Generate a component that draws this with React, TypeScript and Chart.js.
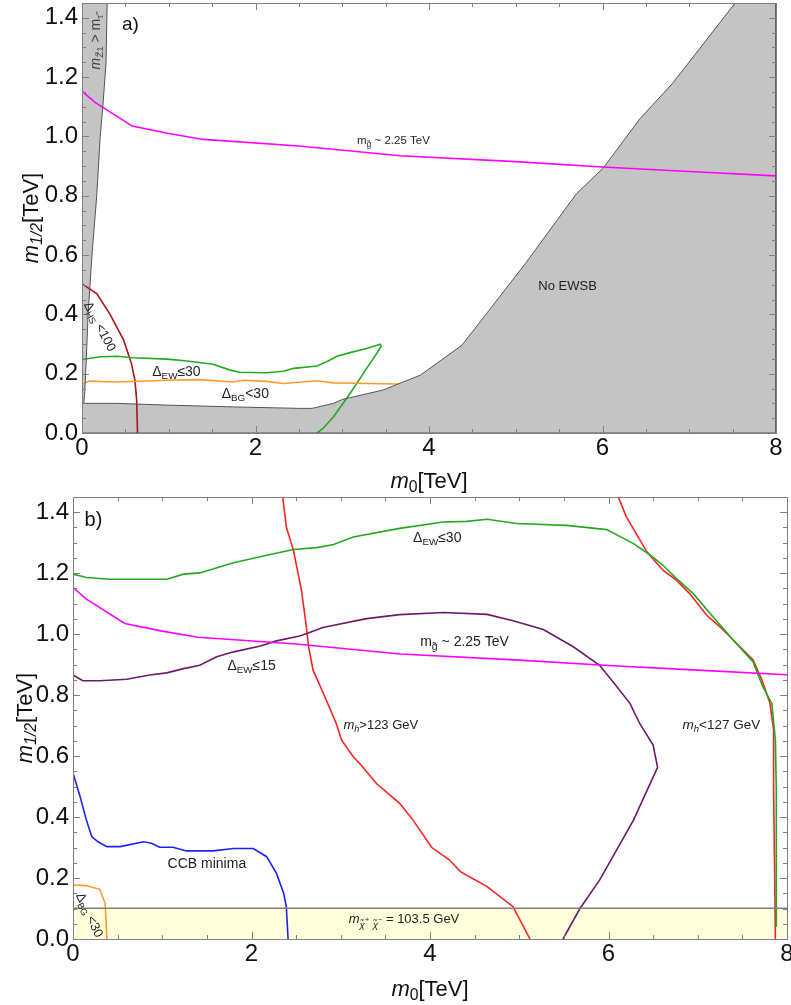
import React, { useEffect, useRef } from 'react';
import { Chart, registerables } from 'chart.js';

Chart.register(...registerables);

const FONT = '"Liberation Sans", Arial, "DejaVu Sans", sans-serif';

// ---------- shared ----------
const xTicksStep = 2;
const yTicksStep = 0.2;
const xMax = 8;
const yMax = 1.45;

// gluino mass contour m_g ~ 2.25 TeV (same in both panels)
const gluinoLine: [number, number][] = [
  [0, 1.153], [0.15, 1.115], [0.58, 1.035], [1.0, 1.01], [1.4, 0.99], [2.5, 0.968],
  [3.67, 0.935], [5.0, 0.915], [6.0, 0.897], [7.0, 0.882], [8.0, 0.867],
];

// ---------- panel a ----------
const noEwsbRegion: [number, number][] = [
  [0, 0.1], [0.4, 0.1], [0.98, 0.094], [1.74, 0.088], [2.51, 0.083], [2.65, 0.083],
  [2.9, 0.1], [3.0, 0.113], [3.47, 0.145], [3.9, 0.195], [4.38, 0.296], [5.11, 0.571],
  [5.7, 0.807], [6.01, 0.894], [6.43, 1.059], [6.81, 1.18], [7.53, 1.45],
  [8, 1.45], [8, 0], [0, 0],
];
const staurLspRegion: [number, number][] = [
  [0, 0.1], [0.02, 0.1], [0.03, 0.13], [0.05, 0.25], [0.07, 0.4], [0.115, 0.6],
  [0.17, 0.8], [0.21, 1.0], [0.24, 1.1], [0.265, 1.2], [0.277, 1.25], [0.29, 1.45], [0, 1.45],
];
const ew30A: [number, number][] = [
  [0, 0.248], [0.21, 0.257], [0.4, 0.259], [0.59, 0.254], [0.98, 0.249], [1.21, 0.243],
  [1.51, 0.232], [1.71, 0.212], [1.82, 0.205], [2.13, 0.203], [2.32, 0.208], [2.44, 0.218],
  [2.71, 0.226], [2.82, 0.24], [2.94, 0.259], [3.09, 0.271], [3.28, 0.285], [3.44, 0.299],
  [3.45, 0.292], [3.28, 0.217], [3.09, 0.133], [2.9, 0.055], [2.78, 0.016], [2.71, 0],
];
const bg30A: [number, number][] = [
  [0, 0.167], [0.09, 0.175], [0.4, 0.172], [0.98, 0.178], [1.36, 0.18], [1.74, 0.172],
  [1.86, 0.178], [2.13, 0.174], [2.32, 0.167], [2.71, 0.176], [2.9, 0.169], [3.28, 0.167], [3.65, 0.165],
];
const hs100A: [number, number][] = [
  [0, 0.503], [0.17, 0.47], [0.32, 0.402], [0.48, 0.313], [0.57, 0.234], [0.61, 0.178],
  [0.63, 0.111], [0.64, 0],
];

// ---------- panel b ----------
const charginoBand: [number, number][] = [[0, 0], [8, 0], [8, 0.101], [0, 0.101]];
const charginoLine: [number, number][] = [[0, 0.101], [8, 0.101]];
const ew30B: [number, number][] = [
  [0, 1.197], [0.15, 1.186], [0.41, 1.18], [1.05, 1.18], [1.24, 1.197], [1.42, 1.201],
  [1.8, 1.234], [2.17, 1.259], [2.47, 1.278], [2.73, 1.284], [2.92, 1.294], [3.14, 1.319],
  [3.66, 1.347], [4.15, 1.368], [4.41, 1.37], [4.64, 1.377], [4.97, 1.363], [5.53, 1.357],
  [5.98, 1.343], [6.28, 1.297], [6.47, 1.259], [6.61, 1.226], [6.76, 1.183], [6.95, 1.133],
  [7.17, 1.057], [7.4, 0.98], [7.62, 0.909], [7.73, 0.827], [7.83, 0.773], [7.87, 0.652],
  [7.88, 0.489], [7.88, 0.04],
];
const mh123: [number, number][] = [
  [2.35, 1.45], [2.39, 1.352], [2.47, 1.275], [2.56, 1.144], [2.61, 1.035], [2.64, 0.958],
  [2.69, 0.882], [2.79, 0.816], [2.95, 0.707], [3.01, 0.652], [3.14, 0.598], [3.23, 0.57],
  [3.4, 0.51], [3.66, 0.445], [3.81, 0.39], [4.02, 0.3], [4.22, 0.259], [4.34, 0.221],
  [4.64, 0.172], [4.93, 0.106], [5.12, 0],
];
const mh127: [number, number][] = [
  [6.11, 1.45], [6.2, 1.385], [6.43, 1.27], [6.61, 1.21], [6.76, 1.177], [6.91, 1.133],
  [7.1, 1.062], [7.25, 1.024], [7.4, 0.98], [7.62, 0.915], [7.72, 0.849], [7.81, 0.773],
  [7.85, 0.685], [7.85, 0.489], [7.87, 0],
];
const ew15B: [number, number][] = [
  [0, 0.866], [0.11, 0.847], [0.3, 0.847], [0.6, 0.852], [0.86, 0.866], [1.05, 0.873],
  [1.24, 0.887], [1.42, 0.898], [1.61, 0.926], [1.8, 0.942], [2.1, 0.961], [2.28, 0.978],
  [2.54, 0.994], [2.62, 1.002], [2.8, 1.022], [3.29, 1.051], [3.66, 1.064], [4.15, 1.071],
  [4.64, 1.065], [4.93, 1.044], [5.27, 1.015], [5.61, 0.958], [5.9, 0.898], [6.05, 0.844],
  [6.24, 0.773], [6.35, 0.707], [6.5, 0.636], [6.55, 0.563], [6.28, 0.39], [5.9, 0.193],
  [5.68, 0.1], [5.49, 0],
];
const ccbMinima: [number, number][] = [
  [0, 0.545], [0.08, 0.467], [0.15, 0.39], [0.21, 0.336], [0.28, 0.319], [0.38, 0.303],
  [0.53, 0.303], [0.79, 0.319], [0.88, 0.314], [0.97, 0.301], [1.12, 0.301], [1.27, 0.289],
  [1.57, 0.289], [1.8, 0.297], [2.02, 0.297], [2.17, 0.27], [2.28, 0.215], [2.36, 0.15],
  [2.39, 0.106], [2.41, 0],
];
const bg30B: [number, number][] = [[0, 0.177], [0.15, 0.175], [0.3, 0.163], [0.36, 0.117], [0.38, 0]];

// ---------- labels ----------
type Seg = { t: string; s?: number; dy?: number; it?: boolean };
type Lbl = { x: number; y: number; size: number; segs: Seg[]; rot?: number; align?: 'left' | 'center'; color?: string };

const dEW = (v: string): Seg[] => [{ t: 'Δ' }, { t: 'EW', s: 0.7, dy: 0.22 }, { t: v }];
const dBG = (v: string): Seg[] => [{ t: 'Δ' }, { t: 'BG', s: 0.7, dy: 0.22 }, { t: v }];
const mGluino: Seg[] = [{ t: 'm' }, { t: 'g\u0303', s: 0.75, dy: 0.3 }, { t: ' ~ 2.25 TeV' }];

const labelsA: Lbl[] = [
  { x: 0.46, y: 1.358, size: 19, segs: [{ t: 'a)' }], color: '#111' },
  { x: 3.17, y: 0.975, size: 11.5, segs: mGluino },
  { x: 5.26, y: 0.481, size: 13, segs: [{ t: 'No EWSB' }] },
  { x: 0.81, y: 0.192, size: 14, segs: dEW('≤30') },
  { x: 1.61, y: 0.118, size: 14, segs: dBG('<30') },
  { x: 0.21, y: 0.36, size: 13, rot: 62, align: 'center', segs: [{ t: 'Δ' }, { t: 'HS', s: 0.7, dy: 0.22 }, { t: ' <100' }] },
  { x: 0.15, y: 1.318, size: 14, rot: -90, align: 'center', color: '#444',
    segs: [{ t: 'm', it: true }, { t: 'Z\u03031', s: 0.7, dy: 0.25 }, { t: ' > m' }, { t: 'τ\u0303', s: 0.7, dy: 0.25 }] },
];
const labelsB: Lbl[] = [
  { x: 0.13, y: 1.354, size: 20, segs: [{ t: 'b)' }], color: '#111' },
  { x: 3.81, y: 1.302, size: 14, segs: dEW('≤30') },
  { x: 3.89, y: 0.961, size: 14, segs: mGluino },
  { x: 1.73, y: 0.882, size: 14, segs: dEW('≤15') },
  { x: 3.03, y: 0.689, size: 13, segs: [{ t: 'm', it: true }, { t: 'h', it: true, s: 0.7, dy: 0.25 }, { t: '>123 GeV' }] },
  { x: 6.83, y: 0.689, size: 13.5, segs: [{ t: 'm', it: true }, { t: 'h', it: true, s: 0.7, dy: 0.25 }, { t: '<127 GeV' }] },
  { x: 1.06, y: 0.233, size: 14, segs: [{ t: 'CCB minima' }] },
  { x: 3.09, y: 0.052, size: 13, segs: [
    { t: 'm', it: true }, { t: 'χ\u0303', it: true, s: 0.75, dy: 0.4 }, { t: '+', s: 0.55, dy: -0.05 },
    { t: ' ' }, { t: 'χ\u0303', it: true, s: 0.75, dy: 0.4 }, { t: '−', s: 0.55, dy: -0.05 }, { t: ' = 103.5 GeV' }] },
  { x: 0.19, y: 0.079, size: 13, rot: 65, align: 'center', segs: [{ t: 'Δ' }, { t: 'BG', s: 0.7, dy: 0.22 }, { t: ' <30' }] },
];

const xTitle: Seg[] = [{ t: 'm', it: true }, { t: '0', s: 0.72, dy: 0.2 }, { t: '[TeV]' }];
const yTitle: Seg[] = [{ t: 'm', it: true }, { t: '1/2', s: 0.72, dy: 0.2, it: true }, { t: '[TeV]' }];

// ---------- drawing helpers ----------
function drawRich(ctx: CanvasRenderingContext2D, segs: Seg[], x: number, y: number, size: number,
  align: 'left' | 'center' = 'left', rot = 0, color = '#222', vcenter = true) {
  ctx.save();
  ctx.translate(x, y);
  if (rot) ctx.rotate((rot * Math.PI) / 180);
  const fonts = segs.map((sg) => `${sg.it ? 'italic ' : ''}${(size * (sg.s ?? 1)).toFixed(1)}px ${FONT}`);
  const widths = segs.map((sg, i) => { ctx.font = fonts[i]; return ctx.measureText(sg.t).width; });
  const total = widths.reduce((a, b) => a + b, 0);
  let cx = 0;
  let cy = 0;
  if (align === 'center') { cx = -total / 2; if (vcenter) cy = 0.35 * size; }
  ctx.fillStyle = color;
  ctx.textAlign = 'left';
  ctx.textBaseline = 'alphabetic';
  segs.forEach((sg, i) => {
    ctx.font = fonts[i];
    ctx.fillText(sg.t, cx, cy + (sg.dy ?? 0) * size);
    cx += widths[i];
  });
  ctx.restore();
}

const polyPlugin = {
  id: 'polyFill',
  beforeDatasetsDraw(chart: any) {
    const ctx = chart.ctx;
    const a = chart.chartArea;
    ctx.save();
    ctx.beginPath();
    ctx.rect(a.left, a.top, a.right - a.left, a.bottom - a.top);
    ctx.clip();
    chart.data.datasets.forEach((ds: any, i: number) => {
      if (!ds.polyFill) return;
      const pts = chart.getDatasetMeta(i).data;
      ctx.beginPath();
      pts.forEach((p: any, j: number) => (j ? ctx.lineTo(p.x, p.y) : ctx.moveTo(p.x, p.y)));
      ctx.closePath();
      ctx.fillStyle = ds.polyFill;
      ctx.fill();
    });
    ctx.restore();
  },
};

const framePlugin = {
  id: 'frameTicks',
  afterDatasetsDraw(chart: any) {
    const ctx = chart.ctx;
    const a = chart.chartArea;
    const xs = chart.scales.x;
    const ys = chart.scales.y;
    ctx.save();
    ctx.strokeStyle = '#808080';
    ctx.lineWidth = 1;
    const drawAxisTicks = (scale: any, horizontal: boolean) => {
      const ticks = scale.ticks.map((t: any) => t.value);
      const step = ticks[1] - ticks[0];
      const minor = step / 4;
      for (let v = scale.min; v <= scale.max + 1e-9; v += minor) {
        const isMajor = Math.abs(v / step - Math.round(v / step)) < 1e-6;
        const len = isMajor ? 7 : 4;
        const p = Math.round(scale.getPixelForValue(v)) + 0.5;
        ctx.beginPath();
        if (horizontal) {
          ctx.moveTo(p, a.bottom); ctx.lineTo(p, a.bottom - len);
          ctx.moveTo(p, a.top); ctx.lineTo(p, a.top + len);
        } else {
          ctx.moveTo(a.left, p); ctx.lineTo(a.left + len, p);
          ctx.moveTo(a.right, p); ctx.lineTo(a.right - len, p);
        }
        ctx.stroke();
      }
    };
    drawAxisTicks(xs, true);
    drawAxisTicks(ys, false);
    ctx.strokeRect(Math.round(a.left) + 0.5, Math.round(a.top) + 0.5,
      Math.round(a.right - a.left), Math.round(a.bottom - a.top));
    ctx.restore();
  },
};

function makeTextPlugin(labels: Lbl[], titleOffset: number, yTitleX: number) {
  return {
    id: 'richText',
    afterDraw(chart: any) {
      const ctx = chart.ctx;
      const a = chart.chartArea;
      const xs = chart.scales.x;
      const ys = chart.scales.y;
      labels.forEach((l) => {
        drawRich(ctx, l.segs, xs.getPixelForValue(l.x), ys.getPixelForValue(l.y), l.size,
          l.align ?? 'left', l.rot ?? 0, l.color ?? '#222');
      });
      // x title: baseline at bottom + titleOffset
      drawRich(ctx, xTitle, (a.left + a.right) / 2, a.bottom + titleOffset, 22, 'center', 0, '#111', false);
      // y title: rotated, baseline at x = yTitleX
      drawRich(ctx, yTitle, yTitleX, (a.top + a.bottom) / 2, 22, 'center', -90, '#111', false);
    },
  };
}

const lineDs = (data: [number, number][], color: string, width = 1.6, extra: any = {}) => ({
  data: data.map(([x, y]) => ({ x, y })),
  showLine: true,
  borderColor: color,
  borderWidth: width,
  pointRadius: 0,
  pointHoverRadius: 0,
  fill: false,
  tension: 0,
  ...extra,
});

function makeConfig(datasets: any[], labels: Lbl[], padding: any, yWidth: number, xHeight: number,
  titleOffset: number, yTitleX: number) {
  return {
    type: 'scatter',
    data: { datasets },
    options: {
      animation: false,
      responsive: false,
      events: [],
      layout: { padding },
      plugins: { legend: { display: false }, tooltip: { enabled: false } },
      scales: {
        x: {
          type: 'linear', min: 0, max: xMax,
          ticks: { stepSize: xTicksStep, font: { size: 24, family: FONT }, color: '#111', padding: 1, maxRotation: 0, includeBounds: false },
          grid: { display: false, drawTicks: false, tickLength: 0 },
          border: { display: false },
          afterFit: (s: any) => { s.height = xHeight; s.paddingLeft = 0; s.paddingRight = 0; },
        },
        y: {
          type: 'linear', min: 0, max: yMax,
          ticks: { stepSize: yTicksStep, font: { size: 24, family: FONT }, color: '#111', padding: 4, includeBounds: false,
            callback: (v: any) => Number(v).toFixed(1) },
          grid: { display: false, drawTicks: false, tickLength: 0 },
          border: { display: false },
          afterFit: (s: any) => { s.width = yWidth; s.paddingTop = 0; s.paddingBottom = 0; },
        },
      },
    },
    plugins: [polyPlugin, framePlugin, makeTextPlugin(labels, titleOffset, yTitleX)],
  };
}

const GREY_FILL = '#C4C4C4';
const GREY_LINE = '#555555';

export default function App() {
  const refA = useRef<HTMLCanvasElement>(null);
  const refB = useRef<HTMLCanvasElement>(null);

  useEffect(() => {
    const dsA = [
      lineDs(noEwsbRegion, GREY_LINE, 1, { polyFill: GREY_FILL }),
      lineDs(staurLspRegion, GREY_LINE, 1, { polyFill: GREY_FILL }),
      lineDs(gluinoLine, '#FF00FF', 1.6),
      lineDs(bg30A, '#FF9A2E', 1.6),
      lineDs(ew30A, '#22AA22', 1.6),
      lineDs(hs100A, '#A81818', 1.6),
    ];
    const dsB = [
      lineDs(charginoBand, 'rgba(0,0,0,0)', 0, { polyFill: '#FFFFDC' }),
      lineDs(charginoLine, '#808080', 1.6),
      lineDs(gluinoLine, '#FF00FF', 1.6),
      lineDs(ew15B, '#6A1B6A', 1.6),
      lineDs(ew30B, '#22AA22', 1.6),
      lineDs(mh123, '#FF2020', 1.6),
      lineDs(mh127, '#FF2020', 1.6),
      lineDs(ccbMinima, '#2020FF', 1.6),
      lineDs(bg30B, '#FF9A2E', 1.6),
    ];
    const cA = new Chart(refA.current as any,
      makeConfig(dsA, labelsA, { top: 3, right: 15, left: 0, bottom: 0 }, 82, 63, 55, 38) as any);
    const cB = new Chart(refB.current as any,
      makeConfig(dsB, labelsB, { top: 1, right: 4, left: 0, bottom: 0 }, 73, 66, 57, 32) as any);
    return () => { cA.destroy(); cB.destroy(); };
  }, []);

  return (
    <div style={{ position: 'absolute', left: 0, top: 0, width: 791, height: 1005, background: '#fff', overflow: 'hidden' }}>
      <canvas ref={refA} width={791} height={496} style={{ position: 'absolute', left: 0, top: 0, width: 791, height: 496 }} />
      <canvas ref={refB} width={791} height={509} style={{ position: 'absolute', left: 0, top: 496, width: 791, height: 509 }} />
    </div>
  );
}
